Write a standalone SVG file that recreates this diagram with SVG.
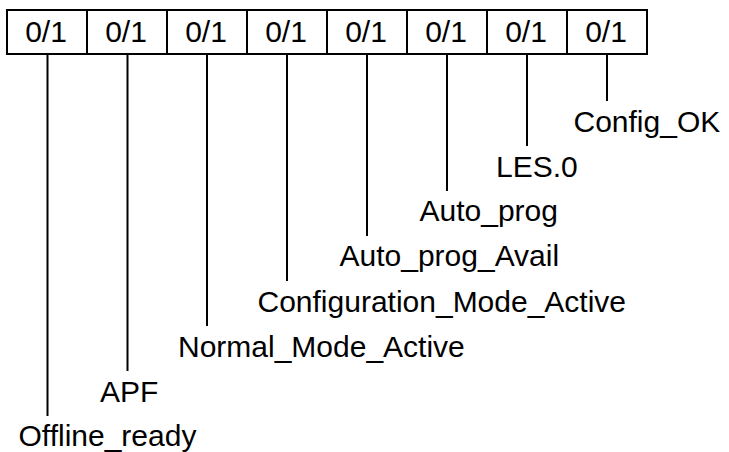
<svg xmlns="http://www.w3.org/2000/svg" width="729" height="452" viewBox="0 0 729 452">
<style>
.cell{fill:#fff;stroke:#000;stroke-width:2}
.lbl{font-family:"Liberation Sans",Arial,sans-serif;font-size:30px;fill:#000}
.mid{text-anchor:middle}
.stem{stroke:#000;stroke-width:2;fill:none}
</style>
<rect width="729" height="452" fill="#fff"/>
<g id="register">
<rect class="cell" x="7" y="10" width="640" height="44"/>
<line class="stem" x1="87" y1="10" x2="87" y2="54"/>
<line class="stem" x1="167" y1="10" x2="167" y2="54"/>
<line class="stem" x1="247" y1="10" x2="247" y2="54"/>
<line class="stem" x1="327" y1="10" x2="327" y2="54"/>
<line class="stem" x1="407" y1="10" x2="407" y2="54"/>
<line class="stem" x1="487" y1="10" x2="487" y2="54"/>
<line class="stem" x1="567" y1="10" x2="567" y2="54"/>
<text class="lbl mid" x="46" y="42">0/1</text>
<text class="lbl mid" x="126" y="42">0/1</text>
<text class="lbl mid" x="206" y="42">0/1</text>
<text class="lbl mid" x="286" y="42">0/1</text>
<text class="lbl mid" x="366" y="42">0/1</text>
<text class="lbl mid" x="446" y="42">0/1</text>
<text class="lbl mid" x="526" y="42">0/1</text>
<text class="lbl mid" x="606" y="42">0/1</text>
</g>
<g id="connectors">
<line class="stem" x1="47.5" y1="54" x2="47.5" y2="416"/>
<line class="stem" x1="127.5" y1="54" x2="127.5" y2="371"/>
<line class="stem" x1="207" y1="54" x2="207" y2="326"/>
<line class="stem" x1="287" y1="54" x2="287" y2="281"/>
<line class="stem" x1="367" y1="54" x2="367" y2="236"/>
<line class="stem" x1="447" y1="54" x2="447" y2="191"/>
<line class="stem" x1="527" y1="54" x2="527" y2="146"/>
<line class="stem" x1="607" y1="54" x2="607" y2="101"/>
</g>
<g id="Offline_ready"><text class="lbl" x="18.5" y="446">Offline_ready</text></g>
<g id="APF"><text class="lbl" x="100" y="402">APF</text></g>
<g id="Normal_Mode_Active"><text class="lbl" x="178" y="357">Normal_Mode_Active</text></g>
<g id="Configuration_Mode_Active"><text class="lbl" x="257.5" y="312">Configuration_Mode_Active</text></g>
<g id="Auto_prog_Avail"><text class="lbl" x="339.5" y="266">Auto_prog_Avail</text></g>
<g id="Auto_prog"><text class="lbl" x="419.5" y="221">Auto_prog</text></g>
<g id="LES0"><text class="lbl" x="496" y="177">LES.0</text></g>
<g id="Config_OK"><text class="lbl" x="573.5" y="132">Config_OK</text></g>
</svg>
